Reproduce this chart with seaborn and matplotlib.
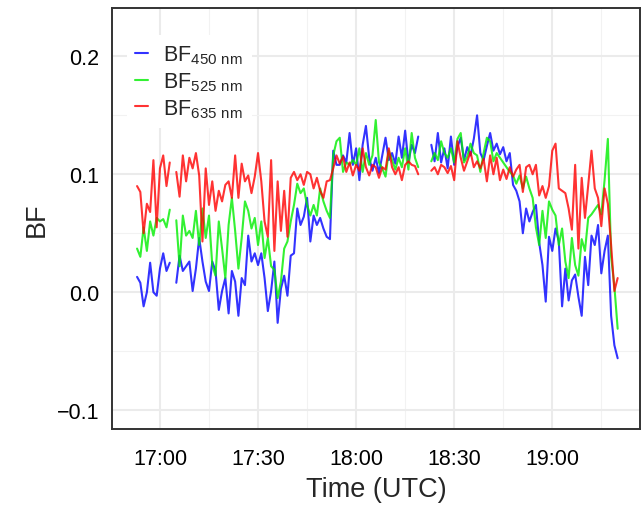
import numpy as np
import pandas as pd
import matplotlib
matplotlib.use("Agg")
import matplotlib.pyplot as plt
import matplotlib.dates as mdates
import seaborn as sns

nan = np.nan

# 1-minute samples starting 16:53 UTC (NaN = gap in record)
start_time = "2019-01-01 16:53"

bf450 = [0.013, 0.008, -0.012, 0.0, 0.025, 0.0, -0.003, 0.02, 0.033, 0.018, 0.025,
         nan,
         0.008, 0.031, 0.018, 0.022, 0.026, 0.001, 0.02, 0.046, 0.026, 0.009,
         0.001, 0.026, 0.018, -0.015, 0.001, 0.012, -0.018, 0.018, 0.009, -0.02,
         0.012, 0.006, 0.048, 0.026, 0.033, 0.023, 0.033, 0.012, -0.016, 0.001,
         0.026, -0.026, 0.003, 0.014, -0.003, 0.031, 0.033, 0.071, 0.057, 0.064,
         0.08, 0.043, 0.065, 0.057, 0.063, 0.054, 0.047, 0.045, 0.12, 0.108,
         0.108, 0.116, 0.11, 0.135, 0.108, 0.122, 0.095, 0.125, 0.141, 0.114,
         0.103, 0.114, 0.101, 0.116, 0.131, 0.112, 0.118, 0.109, 0.132, 0.114,
         0.137, 0.11, 0.125, 0.118, 0.132,
         nan, nan, nan,
         0.125, 0.111, 0.135, 0.11, 0.122, 0.105, 0.132, 0.108, 0.123, 0.131,
         0.112, 0.123, 0.116, 0.13, 0.15, 0.118, 0.112, 0.124, 0.135, 0.12,
         0.126, 0.117, 0.123, 0.111, 0.118, 0.091, 0.086, 0.077, 0.05, 0.071,
         0.06, 0.068, 0.074, 0.042, 0.023, -0.008, 0.047, 0.035, 0.054, 0.043,
         -0.012, 0.02, -0.007, 0.01, 0.015, -0.004, -0.02, 0.03, 0.006, 0.048,
         0.04, 0.057, 0.016, 0.035, 0.048, -0.02, -0.045, -0.056]

bf525 = [0.037, 0.03, 0.055, 0.035, 0.06, 0.048, 0.063, 0.06, 0.062, 0.055, 0.07,
         nan,
         0.061, 0.022, 0.065, 0.048, 0.052, 0.046, 0.069, 0.04, 0.071, 0.046,
         0.065, 0.023, 0.014, 0.06, 0.037, 0.012, 0.057, 0.08, 0.052, 0.02,
         0.046, 0.077, 0.069, 0.054, 0.063, 0.04, 0.06, 0.029, 0.046, 0.022,
         0.019, -0.005, 0.009, 0.037, 0.043, 0.06, 0.074, 0.092, 0.084, 0.088,
         0.074, 0.065, 0.074, 0.065, 0.088, 0.077, 0.069, 0.063, 0.116, 0.128,
         0.131, 0.102, 0.11, 0.108, 0.112, 0.108, 0.122, 0.102, 0.118, 0.108,
         0.116, 0.146, 0.11, 0.105, 0.098, 0.12, 0.112, 0.104, 0.114, 0.106,
         0.122, 0.104, 0.135, 0.114, 0.106,
         nan, nan, nan,
         0.111, 0.118, 0.112, 0.128, 0.118, 0.114, 0.122, 0.11, 0.13, 0.135,
         0.11, 0.115, 0.126, 0.118, 0.116, 0.102, 0.118, 0.131, 0.128, 0.111,
         0.118, 0.114, 0.11, 0.106, 0.102, 0.099, 0.092, 0.099, 0.088, 0.098,
         0.088, 0.08, 0.055, 0.04, 0.069, 0.046, 0.077, 0.07, 0.065, 0.04,
         0.054, 0.026, 0.012, 0.046, 0.023, 0.014, 0.045, 0.035, 0.063, 0.066,
         0.07, 0.074, 0.066, 0.095, 0.13, 0.03, 0.005, -0.031]

bf635 = [0.09, 0.085, 0.05, 0.075, 0.068, 0.112, 0.055, 0.105, 0.116, 0.09, 0.11,
         nan,
         0.102, 0.081, 0.116, 0.094, 0.114, 0.105, 0.118, 0.099, 0.043, 0.105,
         0.074, 0.094, 0.069, 0.086, 0.077, 0.091, 0.094, 0.08, 0.116, 0.08,
         0.109, 0.094, 0.099, 0.084, 0.098, 0.118, 0.094, 0.06, 0.047, 0.112,
         0.035, 0.094, 0.052, 0.086, 0.047, 0.097, 0.102, 0.095, 0.1, 0.091,
         0.102, 0.1, 0.088, 0.097, 0.086, 0.08, 0.094, 0.095, 0.105, 0.116,
         0.109, 0.115, 0.102, 0.11, 0.099, 0.108, 0.103, 0.122, 0.106, 0.099,
         0.108, 0.106, 0.097, 0.106, 0.104, 0.122, 0.106, 0.1, 0.106, 0.095,
         0.108, 0.111, 0.108, 0.107, 0.1,
         nan, nan, nan,
         0.103, 0.106, 0.1, 0.108, 0.106, 0.101, 0.107, 0.095, 0.128, 0.114,
         0.103, 0.111, 0.119, 0.106, 0.111, 0.105, 0.113, 0.094, 0.116, 0.1,
         0.114, 0.095, 0.104, 0.096, 0.106, 0.098, 0.104, 0.108, 0.085, 0.106,
         0.108, 0.1, 0.108, 0.082, 0.09, 0.08, 0.09, 0.12, 0.126, 0.088,
         0.086, 0.084, 0.071, 0.053, 0.108, 0.037, 0.097, 0.063, 0.091, 0.12,
         0.088, 0.08, 0.056, 0.088, 0.075, 0.04, 0.001, 0.012]

series_labels = [r"BF$_{450\ nm}$", r"BF$_{525\ nm}$", r"BF$_{635\ nm}$"]
series_colors = ["#0000ff", "#00ee00", "#ff0000"]
y_ticks = [-0.1, 0.0, 0.1, 0.2]

assert len(bf450) == len(bf525) == len(bf635)
times = pd.date_range(start_time, periods=len(bf450), freq="min")

frames = []
for lab, vals in zip(series_labels, [bf450, bf525, bf635]):
    v = np.array(vals, dtype=float)
    seg = np.cumsum(np.isnan(v))
    d = pd.DataFrame({"time": times, "BF": v, "series": lab, "seg": seg})
    frames.append(d[~np.isnan(v)])
df = pd.concat(frames, ignore_index=True)

sns.set_theme(style="white")
plt.rcParams["font.family"] = ["Liberation Sans", "DejaVu Sans"]
plt.rcParams["mathtext.fontset"] = "custom"
plt.rcParams["mathtext.rm"] = "Liberation Sans"
plt.rcParams["mathtext.default"] = "regular"

fig = plt.figure(figsize=(6.41, 5.06), dpi=100)
ax = fig.add_axes([112 / 641, 76 / 506, 528 / 641, 421 / 506])

sns.lineplot(data=df, x="time", y="BF", hue="series", hue_order=series_labels,
             units="seg", estimator=None, palette=dict(zip(series_labels, series_colors)),
             linewidth=1.5, alpha=0.8, ax=ax)

ax.set_xlim(pd.Timestamp("2019-01-01 16:45:20"), pd.Timestamp("2019-01-01 19:26:50"))
ax.set_ylim(-0.116, 0.241)

ax.xaxis.set_major_locator(mdates.MinuteLocator(byminute=[0, 30]))
ax.xaxis.set_minor_locator(mdates.MinuteLocator(byminute=[15, 45]))
ax.xaxis.set_major_formatter(mdates.DateFormatter("%H:%M"))
ax.set_yticks(y_ticks)
ax.set_yticks([-0.05, 0.05, 0.15], minor=True)
ax.yaxis.set_major_formatter(matplotlib.ticker.FuncFormatter(
    lambda v, p: ("\u2212%.1f" % abs(v)) if v < -1e-9 else "%.1f" % abs(v)))

ax.grid(which="major", color="#EBEBEB", linewidth=1.5)
ax.grid(which="minor", color="#F2F2F2", linewidth=0.8)
ax.set_axisbelow(True)

for s in ax.spines.values():
    s.set_color("#333333")
    s.set_linewidth(1.4)

ax.tick_params(which="major", direction="in", length=3.5, width=1.4, color="#333333",
               labelsize=15.5, labelcolor="black", pad=9)
ax.tick_params(axis="x", which="major", pad=14)
ax.tick_params(which="minor", length=0)

ax.set_xlabel("Time (UTC)", fontsize=19.5, labelpad=5)
ax.set_ylabel("BF", fontsize=19.5, labelpad=5)

handles, labels = ax.get_legend_handles_labels()
leg = ax.legend(handles, labels, loc="upper left", bbox_to_anchor=(0.028, 0.937),
                borderaxespad=0, fontsize=15.5, handlelength=0.6, handletextpad=0.7,
                labelspacing=0.2, frameon=True, facecolor="white", edgecolor="none",
                framealpha=1, fancybox=False)
for h in leg.get_lines():
    h.set_linewidth(1.5)

fig.savefig("out.png", dpi=100)
